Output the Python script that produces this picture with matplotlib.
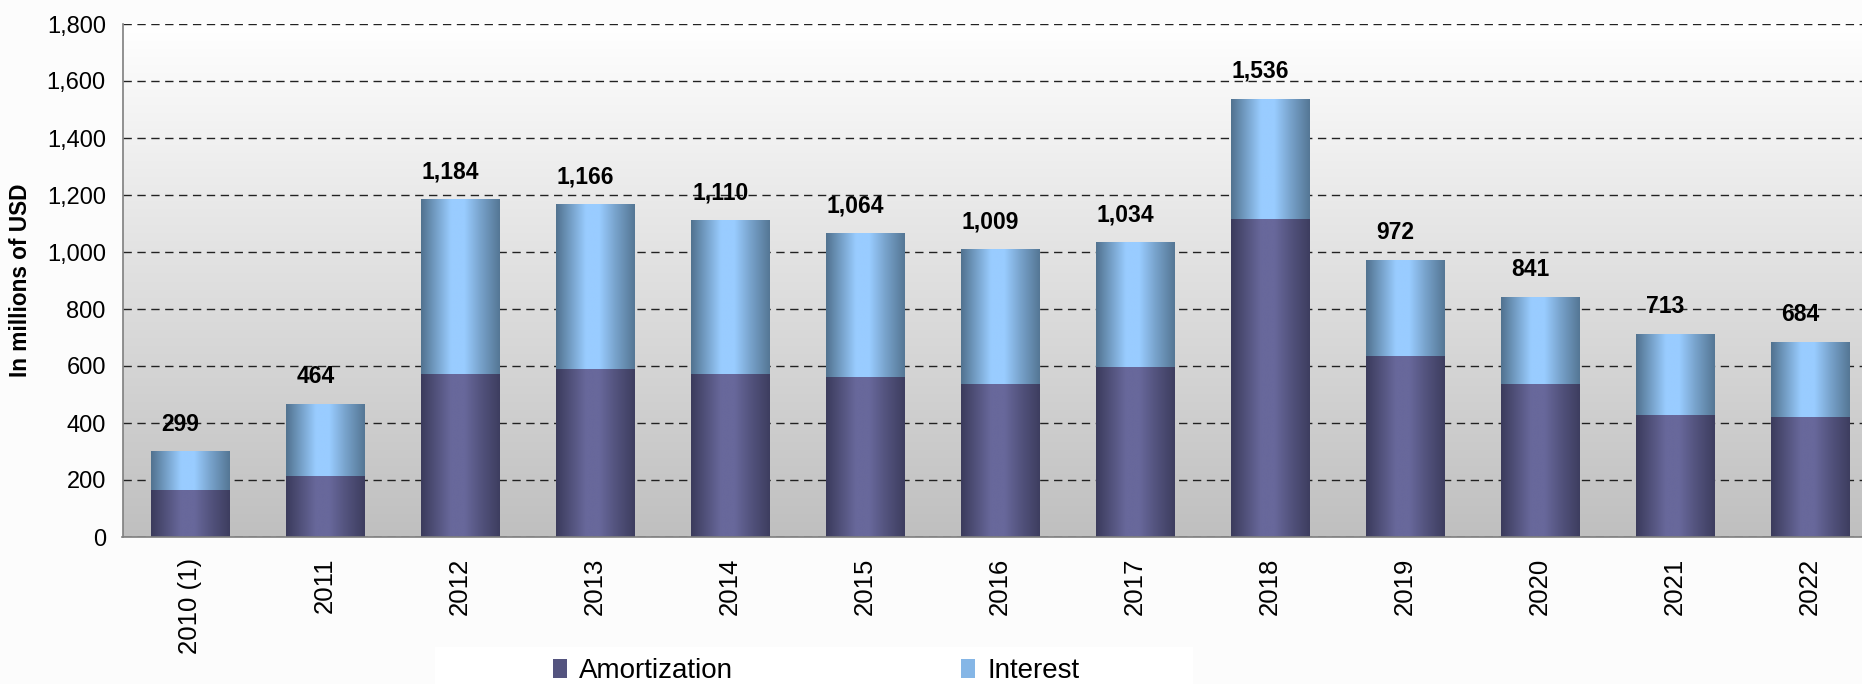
import numpy as np
import matplotlib.pyplot as plt
from matplotlib.patches import Rectangle, Patch
from matplotlib.colors import to_rgb

plt.rcParams['font.family'] = ['Liberation Sans', 'DejaVu Sans']

years = ['2010 (1)', '2011', '2012', '2013', '2014', '2015', '2016',
         '2017', '2018', '2019', '2020', '2021', '2022']
totals = [299, 464, 1184, 1166, 1110, 1064, 1009, 1034, 1536, 972, 841, 713, 684]
amortization = [165, 214, 573, 590, 573, 562, 537, 598, 1117, 636, 538, 429, 422]
interest = [t - a for t, a in zip(totals, amortization)]

AMORT_EDGE, AMORT_MID = '#3b3b5c', '#68689b'
INT_EDGE, INT_MID = '#51728f', '#99ccff'


def shade_row(edge, mid, n=200):
    # horizontal "cylinder" shading: dark edges, light band left of centre
    t = np.linspace(0, 1, n)
    k = np.interp(t, [0, 0.38, 0.55, 0.75, 1.0], [0.0, 1.0, 1.0, 0.55, 0.05])
    e, m = np.array(to_rgb(edge)), np.array(to_rgb(mid))
    return (e + (m - e) * k[:, None])[None, :, :]


def paint_bars(ax, bars, edge, mid):
    row = shade_row(edge, mid)
    for p in bars:
        x0, y0 = p.get_x(), p.get_y()
        ax.imshow(row, extent=(x0, x0 + p.get_width(), y0, y0 + p.get_height()),
                  aspect='auto', interpolation='bilinear', zorder=2.2)


fig = plt.figure(figsize=(18.62, 6.84), dpi=100)
fig.patch.set_facecolor('#fcfcfc')
ax = fig.add_axes([122.5 / 1862, 1 - 537 / 684, 1 - 122.5 / 1862, 513 / 684])
ax.patch.set_visible(False)

# plot-area background: white at the top fading to grey
bg = np.linspace(0.75, 1.0, 256)[:, None] * np.ones((1, 2))
ax.imshow(np.dstack([bg, bg, bg]), extent=(0, 1, 0, 1), transform=ax.transAxes,
          aspect='auto', origin='lower', zorder=0)

x = np.arange(len(years))
w = 0.58
b1 = ax.bar(x, amortization, w, color=AMORT_MID, zorder=2)
b2 = ax.bar(x, interest, w, bottom=amortization, color=INT_MID, zorder=2)
paint_bars(ax, b1, AMORT_EDGE, AMORT_MID)
paint_bars(ax, b2, INT_EDGE, INT_MID)

for xi, t in zip(x, totals):
    ax.annotate(f'{t:,}', xy=(xi, t), xytext=(-7, 20), textcoords='offset points',
                ha='center', va='center', fontsize=16.5, fontweight='bold', zorder=5)

ax.set_xlim(-0.5, (1862 - 122.5) / 135 - 0.5)
ax.set_ylim(0, 1800)
ax.set_yticks(range(0, 1801, 200))
ax.set_yticklabels([f'{v:,}' for v in range(0, 1801, 200)])
ax.set_xticks(x)
ax.set_xticklabels(years, rotation=90)
ax.tick_params(axis='y', length=0, pad=12, labelsize=17)
ax.tick_params(axis='x', length=0, pad=15, labelsize=18.5)

ax.set_axisbelow(True)
ax.yaxis.grid(True, color='#222222', linestyle=(0, (6, 4)), linewidth=1.0)
for s in ['top', 'right']:
    ax.spines[s].set_visible(False)
for s in ['left', 'bottom']:
    ax.spines[s].set_color('#7f7f7f')
    ax.spines[s].set_linewidth(1.2)
    ax.spines[s].set_zorder(3)

fig.text(21 / 1862, 1 - 280 / 684, 'In millions of USD', rotation=90,
         ha='center', va='center', fontsize=16.3, fontweight='bold')

# legend sits on a white panel below the axis labels
fig.patches.append(Rectangle((435 / 1862, 0), (1193 - 435) / 1862, 37 / 684,
                             transform=fig.transFigure, facecolor='white',
                             edgecolor='none', zorder=0))
handles = [Patch(facecolor='#54547f', edgecolor='none', label='Amortization'),
           Patch(facecolor='#85b6e6', edgecolor='none', label='Interest')]
fig.legend(handles=handles, loc='center', bbox_to_anchor=(816 / 1862, 1 - 671 / 684),
           ncol=2, frameon=False, fontsize=20, handlelength=0.5, handleheight=0.65,
           handletextpad=0.45, columnspacing=8.2, borderpad=0, borderaxespad=0)

fig.savefig('out.png', dpi=100, facecolor=fig.get_facecolor())
